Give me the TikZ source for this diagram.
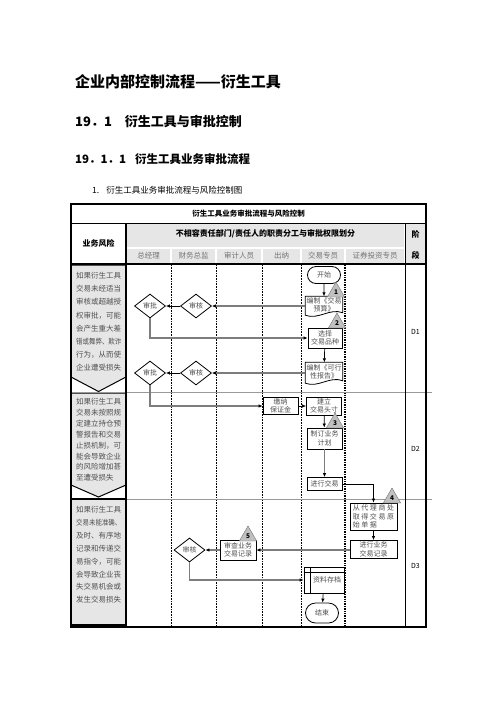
\documentclass[tikz,border=0pt]{standalone}
\usepackage{fontspec}
\setmainfont{Noto Sans CJK SC}
\usetikzlibrary{positioning, arrows.meta, shapes.geometric, shapes.misc, calc}
\definecolor{lanegray}{RGB}{230,230,230}
\definecolor{wiregray}{RGB}{125,125,125}
\definecolor{txtgray}{RGB}{80,80,80}
\definecolor{tagfill}{RGB}{192,192,192}
\tikzset{
    procbox/.style={rectangle, draw, line width=0.8pt, fill=white, minimum width=35pt, minimum height=18pt, inner sep=1pt, align=center, font=\fontsize{7}{8.5}\selectfont, text=txtgray},
    docbox/.style={rectangle, minimum width=37pt, minimum height=17pt, inner sep=1pt, align=center, font=\fontsize{7}{8.5}\selectfont, text=txtgray},
    docline/.style={draw, line width=0.8pt},
    checkbox/.style={diamond, draw, line width=0.8pt, fill=white, aspect=1.3, minimum width=31pt, minimum height=24pt, inner sep=0pt, font=\fontsize{7}{8}\selectfont, text=txtgray},
    termbox/.style={rounded rectangle, draw, line width=0.8pt, fill=white, minimum width=35pt, minimum height=17pt, inner sep=1pt, font=\fontsize{7}{8}\selectfont, text=txtgray},
    tag/.style={regular polygon, regular polygon sides=3, draw=black!55, fill=tagfill, minimum size=20pt, inner sep=0pt, font=\fontsize{6.5}{7}\selectfont\bfseries},
    arr/.style={-{Latex[length=4pt,width=3.5pt]}, line width=0.7pt},
    arrwide/.style={-{Latex[length=4pt,width=3.5pt,color=black]}, line width=1.1pt, draw=wiregray},
    risktext/.style={anchor=north west, inner sep=0pt, align=left, text=txtgray},
    riskcell/.style={fill=lanegray, draw, line width=1pt},
    lanesep/.style={densely dotted, line width=0.6pt},
    rowsep/.style={draw=black!40, line width=0.8pt},
    rolelbl/.style={font=\fontsize{7.5}{8}\selectfont, text=black!55},
    hdrlbl/.style={font=\fontsize{8}{9}\selectfont\bfseries},
    stagelbl/.style={font=\fontsize{7}{8}\selectfont}
}

\begin{document}
\begin{tikzpicture}[x=1pt, y=-1pt]
    \useasboundingbox[fill=white] (0,0) rectangle (496,702);

    % Headings
    \node[anchor=west, inner sep=0pt, font=\fontsize{15}{18}\selectfont\bfseries] (title) at (75,82) {企业内部控制流程——衍生工具};
    \node[anchor=west, inner sep=0pt, font=\fontsize{13}{15}\selectfont\bfseries] (sec) at (75,121) {19．1\hspace{13pt}衍生工具与审批控制};
    \node[anchor=west, inner sep=0pt, font=\fontsize{11.5}{14}\selectfont\bfseries] (subsec) at (75,159) {19．1．1\hspace{9pt}衍生工具业务审批流程};
    \node[anchor=west, inner sep=0pt, font=\fontsize{8.5}{10}\selectfont] (caption) at (92,190) {1.\hspace{7pt}衍生工具业务审批流程与风险控制图};

    % Header fills
    \fill[lanegray] (127,224) rectangle (404,246.5);
    \fill[lanegray] (406,224) rectangle (425,263);
    \foreach \xa/\xb/\role [count=\k] in {126/171/总经理, 171/216/财务总监, 216/262/审计人员, 262/301/出纳, 301/345/交易专员, 345/405/证券投资专员} {
        \fill[lanegray] (\xa+1,248.5) rectangle (\xb-1,263);
        \node[rolelbl] (role\k) at ({(\xa+\xb)/2},255.5) {\role};
    }
    \node[hdrlbl, font=\fontsize{7.5}{9}\selectfont\bfseries] (chart) at (248.5,213.5) {衍生工具业务审批流程与风险控制};
    \node[hdrlbl] (risk) at (98.5,243) {业务风险};
    \node[hdrlbl] (duty) at (265.5,234) {不相容责任部门/责任人的职责分工与审批权限划分};
    \node[hdrlbl] (stageA) at (415.5,234) {阶};
    \node[hdrlbl] (stageB) at (415.5,255.5) {段};

    % Risk column cells
    \draw[riskcell] (71,265) -- (126,265) -- (126,377) -- (98.5,391.5) -- (71,377) -- cycle;
    \draw[riskcell] (71,393) -- (126,393) -- (126,485) -- (98.5,497) -- (71,485) -- cycle;
    \draw[riskcell, line width=1.4pt] (71,499) -- (126,499) -- (126,625) -- (71,625) -- cycle;
    \node[risktext, font=\fontsize{7.5}{13.2}\selectfont] (riskA) at (76,272) {如果衍生工具\\交易未经适当\\审核或超越授\\权审批，可能\\会产生重大差\\\scalebox{0.86}[1]{错或舞弊、欺诈}\\行为，从而使\\企业遭受损失};
    \node[risktext, font=\fontsize{7.5}{10.9}\selectfont] (riskB) at (76,398) {如果衍生工具\\交易未按照规\\定建立持仓预\\警报告和交易\\止损机制，可\\能会导致企业\\的风险增加甚\\至遭受损失};
    \node[risktext, font=\fontsize{7.5}{12.9}\selectfont] (riskC) at (76,506) {如果衍生工具\\\scalebox{0.86}[1]{交易未能准确、}\\及时、有序地\\记录和传递交\\易指令，可能\\会导致企业丧\\失交易机会或\\发生交易损失};

    % Lanes and rows
    \foreach \xl in {171, 216, 262, 301} {
        \draw[lanesep] (\xl,265) -- (\xl,627);
    }
    \draw[lanesep, line width=1.4pt] (345,265) -- (345,627);
    \draw[rowsep] (71,392) -- (432,392);
    \draw[rowsep] (126,499) -- (432,499);
    \draw[line width=0.8pt] (405,223) -- (405,627);
    \draw[line width=1.2pt] (126,223) -- (126,627);
    \draw[line width=1pt] (71,223) -- (426,223);
    \draw[line width=1.6pt] (71,264) -- (426,264);
    \draw[line width=1.5pt] (71,204) rectangle (426,627);

    % Stages
    \node[stagelbl] (dA) at (415.5,332) {D1};
    \node[stagelbl] (dB) at (415.5,449) {D2};
    \node[stagelbl] (dC) at (415.5,566) {D3};

    % Flow nodes
    \node[termbox] (start) at (324,275) {开始};
    \node[docbox] (budget) at (324,305) {编制《交易\\预算》};
    \node[procbox, minimum width=34pt, minimum height=20pt] (pick) at (325,338) {选择\\交易品种};
    \node[docbox, minimum height=19pt] (study) at (324,372) {编制《可行\\性报告》};
    \node[checkbox] (auditA) at (196,306) {审核};
    \node[checkbox] (signA) at (150,306) {审批};
    \node[checkbox] (auditB) at (196,373) {审核};
    \node[checkbox] (signB) at (150,373) {审批};
    \node[procbox, minimum height=16pt] (margin) at (280.5,406) {缴纳\\保证金};
    \node[procbox] (hold) at (324,406) {建立\\交易头寸};
    \node[procbox, minimum height=21pt] (plan) at (324.5,438.5) {制订业务\\计划};
    \node[procbox, minimum height=13pt] (trade) at (324.5,484) {进行交易};
    \node[procbox, minimum width=47pt, minimum height=27pt, align=left] (broker) at (373.5,516.5) {\addfontfeature{LetterSpace=22}从代理商处\\\addfontfeature{LetterSpace=22}取得交易原\\\addfontfeature{LetterSpace=22}始单据};
    \node[procbox, minimum width=47pt] (record) at (373.5,549.5) {进行业务\\交易记录};
    \node[procbox, minimum width=36pt, minimum height=20pt] (review) at (238,550) {审查业务\\交易记录};
    \node[checkbox] (auditC) at (189.5,550) {审核};
    \node[procbox, minimum width=40pt, minimum height=26pt] (archive) at (324,580) {\hspace*{6pt}资料存档};
    \node[termbox, minimum height=20pt] (stop) at (322,613) {结束};

    % Document outlines and storage lines
    \draw[docline] (budget.north west) -- (budget.north east) -- ([yshift=1pt]budget.south east) .. controls +(-13pt,5pt) and +(13pt,-5pt) .. ([yshift=-1.5pt]budget.south west) -- cycle;
    \draw[docline] (study.north west) -- (study.north east) -- ([yshift=1pt]study.south east) .. controls +(-13pt,5pt) and +(13pt,-5pt) .. ([yshift=-1.5pt]study.south west) -- cycle;
    \draw[line width=0.8pt] ([yshift=-5.5pt]archive.north west) -- ([yshift=-5.5pt]archive.north east);
    \draw[line width=0.8pt] ([xshift=7pt]archive.north west) -- ([xshift=7pt]archive.south west);

    % Connectors
    \draw[arr] (start) -- (budget);
    \draw[arrwide] (budget.west |- auditA) -- (auditA);
    \draw[arr] (auditA) -- (signA);
    \draw[arrwide] (signA.south) |- (pick.west);
    \draw[arr] (pick) -- (study);
    \draw[arrwide] (study.west |- auditB) -- (auditB);
    \draw[arr] (auditB) -- (signB);
    \draw[arrwide] (signB.south) |- (margin.west);
    \draw[arr] (margin) -- (hold);
    \draw[arr] (hold) -- (plan);
    \draw[arrwide] (plan) -- (trade);
    \draw[arr] (trade.east) -| (broker.north);
    \draw[arr] (broker) -- (record);
    \draw[arrwide] (record.west |- review) -- (review);
    \draw[arrwide] (review) -- (auditC);
    \draw[arrwide] (auditC.south) |- (archive.west);
    \draw[arr] (archive) -- (stop);

    % Control points
    \node[tag] (ptA) at (336,292) {1};
    \node[tag] (ptB) at (337,323) {2};
    \node[tag] (ptC) at (335,423) {3};
    \node[tag] (ptD) at (392,498) {4};
    \node[tag] (ptE) at (248,536) {5};
\end{tikzpicture}
\end{document}
